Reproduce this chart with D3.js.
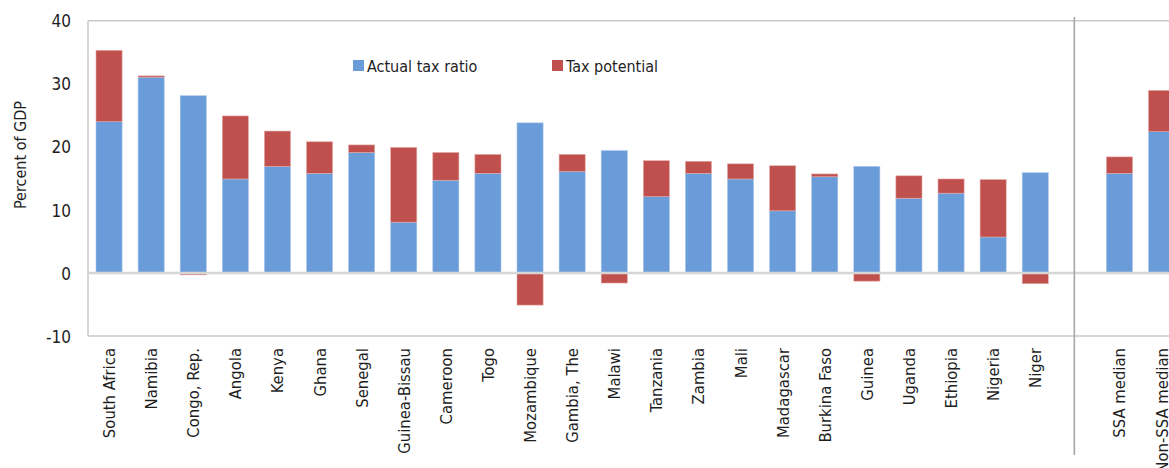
<!DOCTYPE html>
<html>
<head>
<meta charset="utf-8">
<script src="https://cdn.jsdelivr.net/npm/d3@7"></script>
<style>
  html, body { margin: 0; padding: 0; background: #fff; }
  svg { display: block; }
  text { font-family: "Liberation Sans Narrow", "Arial Narrow", "DejaVu Sans Condensed", sans-serif; fill: #1e1e1e; }
</style>
</head>
<body>
<svg id="chart" width="1169" height="468"></svg>
<script>
const categories = ["South Africa", "Namibia", "Congo, Rep.", "Angola", "Kenya", "Ghana", "Senegal",
  "Guinea-Bissau", "Cameroon", "Togo", "Mozambique", "Gambia, The", "Malawi", "Tanzania", "Zambia",
  "Mali", "Madagascar", "Burkina Faso", "Guinea", "Uganda", "Ethiopia", "Nigeria", "Niger",
  " ", "SSA median", "Non-SSA median"];
const actualTaxRatio = [24.0, 31.05, 28.1, 14.9, 16.9, 15.8, 19.1, 8.05, 14.7, 15.8, 23.8, 16.1, 19.4,
  12.1, 15.8, 14.9, 9.85, 15.25, 16.9, 11.85, 12.65, 5.7, 15.9, null, 15.8, 22.4];
const taxPotential = [11.3, 0.2, -0.3, 10.0, 5.6, 5.0, 1.2, 11.85, 4.4, 3.0, -5.1, 2.7, -1.6, 5.7,
  1.9, 2.4, 7.15, 0.45, -1.3, 3.55, 2.25, 9.1, -1.7, null, 2.6, 6.55];
const yTicks = [-10, 0, 10, 20, 30, 40];
const seriesNames = ["Actual tax ratio", "Tax potential"];
const colors = ["#6a9cd9", "#c0504d"];

const svg = d3.select("#chart");
const plotLeft = 88, plotTop = 20.7, plotBottom = 336;
const step = 42.1;
const x = d3.scaleBand().domain(categories).range([plotLeft, plotLeft + step * categories.length])
  .paddingInner(0.38).paddingOuter(0.19);
const y = d3.scaleLinear().domain([-10, 40]).range([plotBottom, plotTop]);

// plot frame
const frame = svg.append("g").attr("stroke", "#c9c9c9").attr("stroke-width", 1.5);
frame.append("line").attr("x1", plotLeft).attr("x2", 1169).attr("y1", y(40)).attr("y2", y(40));
frame.append("line").attr("x1", plotLeft).attr("x2", 1169).attr("y1", y(-10)).attr("y2", y(-10));
frame.append("line").attr("x1", plotLeft).attr("x2", plotLeft).attr("y1", y(40)).attr("y2", y(-10));

const data = categories.map((c, i) => ({ c, a: actualTaxRatio[i], g: taxPotential[i] }))
  .filter(d => d.a !== null);

// actual bars
svg.append("g").selectAll("rect").data(data).join("rect")
  .attr("x", d => x(d.c)).attr("width", x.bandwidth())
  .attr("y", d => y(Math.max(0, d.a))).attr("height", d => Math.abs(y(d.a) - y(0)))
  .attr("fill", colors[0]).attr("stroke", "#a9c6ec").attr("stroke-width", 0.6);

// gap bars (stacked; negatives stack down from zero)
svg.append("g").selectAll("rect").data(data).join("rect")
  .attr("x", d => x(d.c)).attr("width", x.bandwidth())
  .attr("y", d => d.g >= 0 ? y(d.a + d.g) : y(0))
  .attr("height", d => d.g >= 0 ? y(d.a) - y(d.a + d.g) : y(d.g) - y(0))
  .attr("fill", colors[1]).attr("stroke", "#e3a8a6").attr("stroke-width", 0.6);

// zero line
svg.append("line").attr("x1", plotLeft).attr("x2", 1169).attr("y1", y(0)).attr("y2", y(0))
  .attr("stroke", "#d6d6d6").attr("stroke-width", 2.5);

// separator
const sepX = x(" ") + x.bandwidth() / 2 - 3;
svg.append("line").attr("x1", sepX).attr("x2", sepX).attr("y1", 17).attr("y2", 455)
  .attr("stroke", "#a6a6a6").attr("stroke-width", 1.6);

// y axis labels
const yAxis = d3.axisLeft(y).tickValues(yTicks).tickSize(0).tickPadding(0).tickFormat(d => String(d));
const yg = svg.append("g").attr("transform", "translate(71,0)").call(yAxis);
yg.select(".domain").remove();
yg.selectAll("text").attr("font-size", 17).attr("fill", "#1e1e1e")
  .style("font-family", "'Liberation Sans Narrow', 'Arial Narrow', 'DejaVu Sans Condensed', sans-serif").attr("dy", "0.36em");

// y title
svg.append("text").attr("transform", "translate(26,155) rotate(-90)")
  .attr("text-anchor", "middle").attr("font-size", 16).text("Percent of GDP");

// x labels
const xAxis = d3.axisBottom(x).tickSize(0).tickPadding(0);
const xg = svg.append("g").attr("transform", "translate(0,348)").call(xAxis);
xg.select(".domain").remove();
xg.selectAll("text")
  .attr("transform", "rotate(-90)").attr("text-anchor", "end")
  .attr("x", 0).attr("y", 0).attr("dx", 0).attr("dy", "0.36em")
  .attr("font-size", 16.5).attr("fill", "#1e1e1e")
  .style("font-family", "'Liberation Sans Narrow', 'Arial Narrow', 'DejaVu Sans Condensed', sans-serif");

// legend
const legendX = [353, 552];
seriesNames.forEach((name, i) => {
  svg.append("rect").attr("x", legendX[i]).attr("y", 60).attr("width", 11).attr("height", 11).attr("fill", colors[i]);
  svg.append("text").attr("x", legendX[i] + 14).attr("y", 72).attr("font-size", 16).text(name);
});
</script>
</body>
</html>
